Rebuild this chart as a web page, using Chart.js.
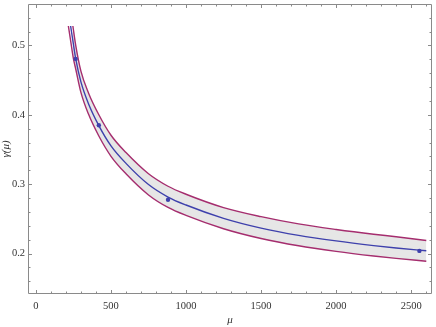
<!DOCTYPE html>
<html>
<head>
<meta charset="utf-8">
<script src="https://cdn.jsdelivr.net/npm/chart.js@4/dist/chart.umd.min.js"></script>
<style>
  html, body { margin: 0; padding: 0; background: #fff; }
  #wrap { width: 436px; height: 327px; position: relative; }
</style>
</head>
<body>
<div id="wrap"><canvas id="chart"></canvas></div>
<script>
// values
const muCenter = [231, 250, 265, 300, 350, 419, 500, 600, 750, 880, 1000, 1250, 1500, 1750, 2000, 2250, 2400, 2601];
const gammaCenter = [0.528, 0.501, 0.4805, 0.447, 0.416, 0.3844, 0.3552, 0.330, 0.2995, 0.2815, 0.2700, 0.2508, 0.2367, 0.2262, 0.2182, 0.2115, 0.2080, 0.2040];

const muUpper = [246, 265, 300, 350, 419, 500, 600, 750, 880, 1000, 1250, 1500, 1750, 2000, 2250, 2400, 2601];
const gammaUpper = [0.528, 0.500, 0.4625, 0.4315, 0.400, 0.3705, 0.3455, 0.315, 0.297, 0.2855, 0.2663, 0.2532, 0.2427, 0.2347, 0.2278, 0.2242, 0.2188];

const muLower = [216, 231, 250, 265, 300, 350, 419, 500, 600, 750, 880, 1000, 1250, 1500, 1750, 2000, 2250, 2400, 2601];
const gammaLower = [0.528, 0.507, 0.4805, 0.466, 0.432, 0.401, 0.3694, 0.3402, 0.315, 0.2845, 0.2665, 0.2550, 0.2358, 0.2217, 0.2112, 0.2032, 0.1965, 0.1930, 0.1890];

const muPoints = [264.5, 419, 880, 2555];
const gammaPoints = [0.4806, 0.385, 0.2775, 0.2038];

const xTicks = [0, 500, 1000, 1500, 2000, 2500];
const yTicks = [0.2, 0.3, 0.4, 0.5];
const xMinorStep = 100;
const yMinorStep = 0.02;

const toXY = (xs, ys) => xs.map((x, i) => ({ x: x, y: ys[i] }));

const blue = 'rgb(62, 64, 172)';
const purple = 'rgb(165, 45, 110)';
const frameColor = '#8a8a8a';
const serif = '"Liberation Serif", "DejaVu Serif", serif';

// Mathematica style frame with ticks pointing inwards
const frameTicks = {
  id: 'frameTicks',
  afterDraw(chart) {
    const ctx = chart.ctx;
    const a = chart.chartArea;
    const xs = chart.scales.x, ys = chart.scales.y;
    ctx.save();
    ctx.strokeStyle = frameColor;
    ctx.lineWidth = 1;
    ctx.beginPath();
    ctx.rect(a.left + 0.5, a.top + 0.5, a.right - a.left - 1, a.bottom - a.top - 1);
    ctx.stroke();

    ctx.beginPath();
    for (let v = Math.ceil(xs.min / xMinorStep) * xMinorStep; v <= xs.max; v += xMinorStep) {
      const px = Math.round(xs.getPixelForValue(v)) + 0.5;
      const len = Math.abs(v % 500) < 1e-6 ? 4 : 2.5;
      ctx.moveTo(px, a.bottom); ctx.lineTo(px, a.bottom - len);
      ctx.moveTo(px, a.top); ctx.lineTo(px, a.top + len);
    }
    for (let k = Math.ceil(ys.min / yMinorStep); k * yMinorStep <= ys.max; k++) {
      const v = k * yMinorStep;
      const py = Math.round(ys.getPixelForValue(v)) + 0.5;
      const len = k % 5 === 0 ? 4 : 2.5;
      ctx.moveTo(a.left, py); ctx.lineTo(a.left + len, py);
      ctx.moveTo(a.right, py); ctx.lineTo(a.right - len, py);
    }
    ctx.stroke();
    ctx.restore();
  }
};

new Chart(document.getElementById('chart'), {
  type: 'scatter',
  data: {
    datasets: [
      {
        label: 'data',
        data: toXY(muPoints, gammaPoints),
        showLine: false,
        pointRadius: 2.2,
        pointBackgroundColor: blue,
        pointBorderWidth: 0,
        order: 0
      },
      {
        label: 'center',
        data: toXY(muCenter, gammaCenter),
        showLine: true,
        borderColor: blue,
        borderWidth: 1.4,
        pointRadius: 0,
        cubicInterpolationMode: 'monotone',
        order: 1
      },
      {
        label: 'upper',
        data: toXY(muUpper, gammaUpper),
        showLine: true,
        borderColor: purple,
        borderWidth: 1.4,
        pointRadius: 0,
        cubicInterpolationMode: 'monotone',
        order: 2
      },
      {
        label: 'lower',
        data: toXY(muLower, gammaLower),
        showLine: true,
        borderColor: purple,
        borderWidth: 1.4,
        pointRadius: 0,
        cubicInterpolationMode: 'monotone',
        fill: '-1',
        backgroundColor: 'rgb(230, 230, 230)',
        order: 3
      }
    ]
  },
  options: {
    responsive: true,
    maintainAspectRatio: false,
    animation: false,
    layout: { padding: { top: 0, right: 1, left: 0, bottom: 0 } },
    plugins: {
      legend: { display: false },
      tooltip: { enabled: false },
      filler: { drawTime: 'beforeDatasetsDraw' }
    },
    scales: {
      x: {
        type: 'linear',
        min: -53,
        max: 2639,
        afterBuildTicks: s => { s.ticks = xTicks.map(v => ({ value: v })); },
        afterFit: s => { s.height = 33; s.paddingLeft = 0; s.paddingRight = 0; },
        grid: { display: false, drawTicks: false },
        border: { display: false },
        ticks: {
          color: '#333',
          font: { family: serif, size: 10.5 },
          padding: 6,
          maxRotation: 0,
          callback: v => String(v)
        },
        title: {
          display: true,
          text: 'μ',
          color: '#333',
          font: { family: serif, size: 11, style: 'italic' },
          padding: { top: 0, bottom: 0 }
        }
      },
      y: {
        type: 'linear',
        min: 0.1417,
        max: 0.5597,
        afterBuildTicks: s => { s.ticks = yTicks.map(v => ({ value: v })); },
        afterFit: s => { s.width = 28; s.paddingTop = 0; s.paddingBottom = 0; },
        grid: { display: false, drawTicks: false },
        border: { display: false },
        ticks: {
          color: '#333',
          font: { family: serif, size: 10.5 },
          padding: 3,
          callback: v => v.toFixed(1)
        },
        title: {
          display: true,
          text: 'γ(μ)',
          color: '#333',
          font: { family: serif, size: 11, style: 'italic' },
          padding: { top: 0, bottom: 0 }
        }
      }
    }
  },
  plugins: [frameTicks]
});
</script>
</body>
</html>
